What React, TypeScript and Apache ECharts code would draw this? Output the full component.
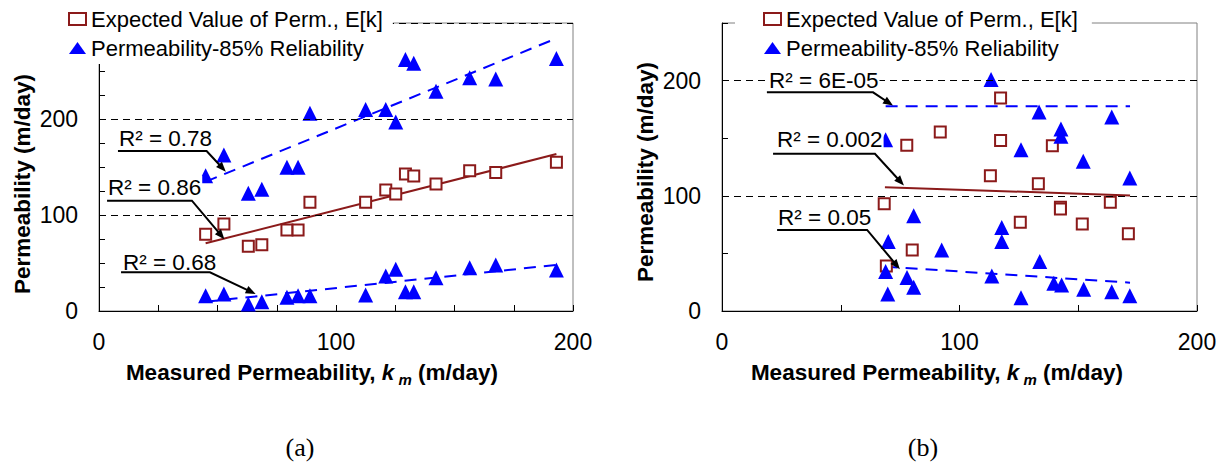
import React, { useEffect, useRef } from "react";
import * as echarts from "echarts";

// ---------- Panel (a) data ----------
const leftK = [45, 52.7, 63, 68.7, 79.3, 84, 89, 112.5, 121, 125.2, 129.3, 132.8, 142.2, 156.4, 167.4, 193];
const leftExpected = [79.9, 90.6, 67.4, 69, 84.4, 84.4, 113.2, 113.2, 126, 121.9, 142.7, 140.6, 132.3, 146.2, 144.4, 154.9];
const leftUpper = [141, 162.5, 122.6, 126.8, 149.7, 149.7, 206, 210, 210, 197, 262, 258, 229, 243, 241.7, 263];
const leftLower = [16, 17.7, 7.3, 9.7, 14.2, 16, 16, 16.7, 36.5, 43.4, 20.1, 20.1, 34.7, 45.1, 47.9, 42.7];
const leftTrendExpected = [[45, 70.5], [193, 163.5]];
const leftTrendUpper = [[45, 134.7], [193, 284]];
const leftTrendLower = [[45, 9.7], [193, 48]];
const leftGridLines = [100, 200, 300];

// ---------- Panel (b) data ----------
const rightExpK = [68.3, 69.2, 77.8, 80.1, 91.9, 113, 117.3, 117.3, 125.6, 133.2, 139.1, 142.5, 142.5, 151.7, 163.5, 171.1];
const rightExp = [93, 39.1, 143.8, 53, 155.4, 117.4, 185, 148, 77.1, 110.4, 143.5, 90.1, 88.5, 75.6, 94.5, 67];
const rightTriK = [68.9, 70, 68.9, 69.8, 77.9, 80.7, 80.7, 92.5, 113.3, 113.6, 117.8, 117.8, 125.9, 125.9, 133.5, 133.8, 139.7, 142.7, 142.7, 143, 152.1, 152.3, 164.1, 164.1, 171.7, 171.7];
const rightTriV = [148.7, 60.3, 34.2, 14.8, 29, 82.6, 20.6, 53, 200.9, 30.4, 72.5, 60.3, 140, 11.6, 172.8, 42.9, 24.1, 158, 151.6, 22.6, 129.9, 18.9, 168.4, 16.8, 115.4, 13.3];
const rightTrendExpected = [[68.6, 107.5], [171.8, 100.3]];
const rightTrendUpper = [[68.9, 177.7], [171.8, 177.7]];
const rightTrendLower = [[68.9, 38.5], [171.8, 24.6]];
const rightGridLines = [100, 200];

// ---------- R² annotations (data units: label left/centre, underline, arrow tip) ----------
const leftNotes = [
  { text: "R² = 0.78", tx: 8, ty: 180, ux0: 8, ux1: 45.4, uy: 166.7, tipX: 53.5, tipY: 145.1 },
  { text: "R² = 0.86", tx: 3.4, ty: 129, ux0: 3.4, ux1: 39.2, uy: 114.9, tipX: 52.9, tipY: 74.7 },
  { text: "R² = 0.68", tx: 9.7, ty: 50.3, ux0: 9.3, ux1: 46.8, uy: 40.3, tipX: 66.1, tipY: 17.7 },
];
const rightNotes = [
  { text: "R² = 6E-05", tx: 19.4, ty: 200, ux0: 18.9, ux1: 63.6, uy: 189.8, tipX: 72, tipY: 178.3 },
  { text: "R² = 0.002", tx: 22.7, ty: 148.7, ux0: 21.5, ux1: 64.4, uy: 136.5, tipX: 76.6, tipY: 109 },
  { text: "R² = 0.05", tx: 23.2, ty: 80.9, ux0: 23.2, ux1: 61.1, uy: 70.4, tipX: 74.9, tipY: 36.3 },
];

const NAME_EXP = "Expected Value of Perm., E[k]";
const NAME_REL = "Permeability-85% Reliability";
const FONT = 'Arial, "Liberation Sans", Helvetica, sans-serif';
const RED = "#8B1A1A";
const BLUE = "#0000FF";

function zip(a: number[], b: number[]) {
  return a.map((v, i) => [v, b[i]]);
}

export default function App() {
  const ref = useRef<HTMLDivElement>(null);
  useEffect(() => {
    const chart = echarts.init(ref.current!, null, { renderer: "svg" });

    const xAxis = (gridIndex: number, interval: number) => ({
      type: "value",
      gridIndex,
      min: 0,
      max: 200,
      interval,
      axisLine: { show: true, lineStyle: { color: "#000", width: 1 } },
      axisTick: { show: true, inside: true, length: 6, lineStyle: { color: "#000" } },
      axisLabel: {
        margin: 19,
        fontSize: 23,
        color: "#000",
        fontFamily: FONT,
        formatter: (v: number) => (v % 100 === 0 ? String(v) : ""),
      },
      splitLine: { show: false },
    });
    const yAxis = (gridIndex: number, max: number, interval: number) => ({
      type: "value",
      gridIndex,
      min: 0,
      max,
      interval,
      axisLine: { show: true, lineStyle: { color: "#000", width: 1 } },
      axisTick: { show: true, inside: true, length: 6, lineStyle: { color: "#000" } },
      axisLabel: {
        margin: 21,
        fontSize: 23,
        color: "#000",
        fontFamily: FONT,
        formatter: (v: number) => (v % 100 === 0 && v < max ? String(v) : ""),
      },
      splitLine: { show: false },
    });

    const gridMark = (vals: number[]) => ({
      silent: true,
      symbol: "none",
      label: { show: false },
      lineStyle: { color: "#000", type: [7, 5], width: 1 },
      data: vals.map((v) => ({ yAxis: v })),
    });

    const squares = (idx: number, data: number[][], marks?: number[]) => ({
      name: NAME_EXP,
      type: "scatter",
      xAxisIndex: idx,
      yAxisIndex: idx,
      symbol: "rect",
      symbolSize: 11,
      itemStyle: { color: "#fff", borderColor: RED, borderWidth: 2, opacity: 1 },
      data,
      z: 3,
      markLine: marks ? gridMark(marks) : undefined,
    });
    const triangles = (idx: number, data: number[][]) => ({
      name: NAME_REL,
      type: "scatter",
      xAxisIndex: idx,
      yAxisIndex: idx,
      symbol: "triangle",
      symbolSize: 15,
      itemStyle: { color: BLUE, opacity: 1 },
      data,
      z: 4,
    });
    const trend = (idx: number, data: number[][], color: string, dashed: boolean) => ({
      name: "trend",
      type: "line",
      xAxisIndex: idx,
      yAxisIndex: idx,
      showSymbol: false,
      symbol: "none",
      lineStyle: { color, width: 2, type: dashed ? [12, 8] : "solid" },
      data,
      z: 2,
    });

    const legendData = [
      { name: NAME_EXP, icon: "rect", itemStyle: { color: "#fff", borderColor: RED, borderWidth: 2 } },
      { name: NAME_REL, icon: "triangle", itemStyle: { color: BLUE } },
    ];
    const legend = (left: number, padding: number[]) => ({
      orient: "vertical",
      left,
      top: 0,
      z: 20,
      padding,
      itemGap: 7,
      itemWidth: 17,
      itemHeight: 12,
      selectedMode: false,
      backgroundColor: "#fff",
      textStyle: { fontSize: 22, color: "#000", fontFamily: FONT },
      data: legendData,
    });

    chart.setOption({
      animation: false,
      backgroundColor: "#fff",
      grid: [
        { left: 99, top: 23, width: 474, height: 288, show: true, borderColor: "#808080", borderWidth: 1 },
        { left: 722, top: 23, width: 475, height: 288, show: true, borderColor: "#808080", borderWidth: 1 },
      ],
      xAxis: [xAxis(0, 25), xAxis(1, 50)],
      yAxis: [yAxis(0, 300, 25), yAxis(1, 250, 50)],
      legend: [legend(68, [8, 10, 5, 0]), legend(735, [8, 14, 4, 28])],
      series: [
        trend(0, leftTrendUpper, BLUE, true),
        trend(0, leftTrendExpected, RED, false),
        trend(0, leftTrendLower, BLUE, true),
        squares(0, zip(leftK, leftExpected), leftGridLines),
        triangles(0, zip(leftK, leftUpper)),
        triangles(0, zip(leftK, leftLower)),
        trend(1, rightTrendUpper, BLUE, true),
        trend(1, rightTrendExpected, RED, false),
        trend(1, rightTrendLower, BLUE, true),
        squares(1, zip(rightExpK, rightExp), rightGridLines),
        triangles(1, zip(rightTriK, rightTriV)),
      ],
    });

    const graphics: any[] = [];
    const addNotes = (idx: number, notes: typeof leftNotes) => {
      notes.forEach((n) => {
        const conv = (x: number, y: number) =>
          chart.convertToPixel({ xAxisIndex: idx, yAxisIndex: idx } as any, [x, y]) as number[];
        const t = conv(n.tx, n.ty);
        const u0 = conv(n.ux0, n.uy);
        const u1 = conv(n.ux1, n.uy);
        const tip = conv(n.tipX, n.tipY);
        const dx = tip[0] - u1[0];
        const dy = tip[1] - u1[1];
        const len = Math.hypot(dx, dy);
        const ux = dx / len;
        const uy = dy / len;
        const L = 10;
        const W = 4;
        const back = [tip[0] - ux * L, tip[1] - uy * L];
        graphics.push({
          type: "text",
          z: 10,
          style: {
            text: n.text,
            x: t[0],
            y: t[1],
            textAlign: "left",
            textVerticalAlign: "middle",
            font: `22.5px ${FONT}`,
            fill: "#000",
            backgroundColor: "#fff",
            padding: [0, 1],
          },
        });
        graphics.push({
          type: "polyline",
          z: 10,
          shape: { points: [u0, u1, [tip[0] - ux * 6, tip[1] - uy * 6]] },
          style: { stroke: "#000", lineWidth: 2, fill: null },
        });
        graphics.push({
          type: "polygon",
          z: 10,
          shape: {
            points: [
              tip,
              [back[0] - uy * W, back[1] + ux * W],
              [back[0] + uy * W, back[1] - ux * W],
            ],
          },
          style: { fill: "#000" },
        });
      });
    };
    addNotes(0, leftNotes);
    addNotes(1, rightNotes);

    const xName = (cx: number) => ({
      type: "text",
      z: 10,
      style: {
        text: "{b|Measured Permeability, }{k|k}{s| m}{b| (m/day)}",
        x: cx,
        y: 372,
        textAlign: "center",
        textVerticalAlign: "middle",
        fill: "#000",
        rich: {
          b: { font: `bold 22.5px ${FONT}`, lineHeight: 30, verticalAlign: "middle" },
          k: { font: `italic bold 22.5px ${FONT}`, lineHeight: 30, verticalAlign: "middle" },
          s: { font: `italic bold 15px ${FONT}`, lineHeight: 16, verticalAlign: "bottom" },
        },
      },
    });
    const yName = (cx: number, cy: number) => ({
      type: "text",
      z: 10,
      x: cx,
      y: cy,
      rotation: Math.PI / 2,
      style: {
        text: "Permeability (m/day)",
        x: 0,
        y: 0,
        textAlign: "center",
        textVerticalAlign: "middle",
        font: `bold 22.5px ${FONT}`,
        fill: "#000",
      },
    });
    const caption = (cx: number, txt: string) => ({
      type: "text",
      z: 10,
      style: {
        text: txt,
        x: cx,
        y: 447,
        textAlign: "center",
        textVerticalAlign: "middle",
        font: `26px "Times New Roman", "Liberation Serif", serif`,
        fill: "#000",
      },
    });
    graphics.push(xName(312), xName(937), yName(22, 184), yName(645, 172), caption(300, "(a)"), caption(923, "(b)"));

    chart.setOption({ graphic: graphics });

    return () => chart.dispose();
  }, []);
  return (
    <div
      ref={ref}
      style={{ position: "fixed", left: 0, top: 0, width: 1228, height: 462, background: "#fff" }}
    />
  );
}
